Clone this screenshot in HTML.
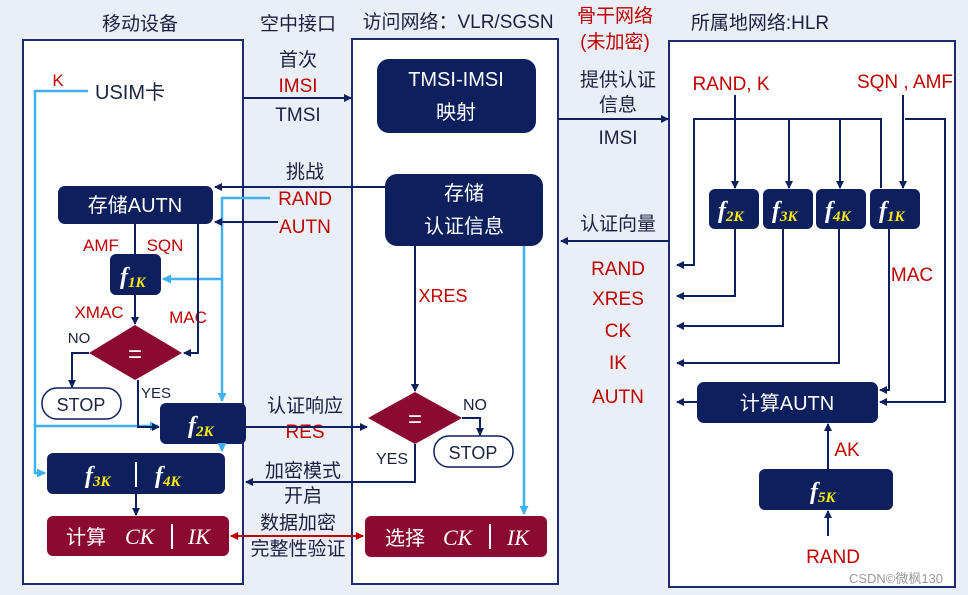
<!DOCTYPE html>
<html><head><meta charset="utf-8"><style>
html,body{margin:0;padding:0;background:#e9eef7}
svg{display:block}
text{font-family:"Liberation Sans","Noto Sans CJK SC",sans-serif}
.t{font-size:19px;fill:#1a2240;text-anchor:middle}
.r{font-size:19px;fill:#c00000;text-anchor:middle}
.w{font-size:20px;fill:#fff;text-anchor:middle}
.f{font-family:"Liberation Serif",serif;font-style:italic;font-weight:bold;fill:#fff;font-size:24px}
.k{fill:#ffee00;font-size:15px}
.n{stroke:#0d1f5c;stroke-width:2;fill:none}
.b{stroke:#3fb0f0;stroke-width:2.5;fill:none}
</style></head><body>
<svg width="968" height="595" viewBox="0 0 968 595" xmlns="http://www.w3.org/2000/svg">
<defs>
<marker id="a" markerWidth="8" markerHeight="8" refX="7" refY="4" orient="auto" markerUnits="userSpaceOnUse"><path d="M0,0 L8,4 L0,8 z" fill="#0d1f5c"/></marker>
<marker id="c" markerWidth="9" markerHeight="9" refX="8" refY="4.5" orient="auto" markerUnits="userSpaceOnUse"><path d="M0,0 L9,4.5 L0,9 z" fill="#3fb0f0"/></marker>
<marker id="d" markerWidth="8" markerHeight="8" refX="7" refY="4" orient="auto-start-reverse" markerUnits="userSpaceOnUse"><path d="M0,0 L8,4 L0,8 z" fill="#c00000"/></marker>
</defs>
<rect width="968" height="595" fill="#e9eef7"/>
<rect x="23" y="40" width="220" height="544" fill="#fff" stroke="#1d2c6e" stroke-width="2"/>
<rect x="352" y="39" width="206" height="545" fill="#fff" stroke="#1d2c6e" stroke-width="2"/>
<rect x="669" y="41" width="286" height="546" fill="#fff" stroke="#1d2c6e" stroke-width="2"/>

<text class="t" x="140" y="30">移动设备</text>
<text class="t" x="298" y="30">空中接口</text>
<text class="t" x="458" y="28">访问网络：VLR/SGSN</text>
<text class="r" x="615" y="22">骨干网络</text>
<text class="r" x="615" y="48">(未加密)</text>
<text class="t" x="760" y="29">所属地网络:HLR</text>

<!-- left panel -->
<text class="r" x="58" y="86" style="font-size:17px">K</text>
<text class="t" x="130" y="99" style="font-size:20px">USIM卡</text>
<rect x="58" y="186" width="155" height="38" rx="7" fill="#0d1f5c"/>
<text class="w" x="135" y="212">存储AUTN</text>
<rect x="110" y="254" width="51" height="41" rx="6" fill="#0d1f5c"/>
<text class="f" x="120" y="284">f<tspan class="k" dy="3">1K</tspan></text>
<polygon points="89,353 135,325 182,353 135,380" fill="#8b0a32"/>
<text x="135" y="362" style="font-size:24px;fill:#fff;text-anchor:middle">=</text>
<rect x="42" y="388" width="79" height="31" rx="15" fill="#fff" stroke="#0d1f5c" stroke-width="1.5"/>
<text class="t" x="81" y="411" style="font-size:18px">STOP</text>
<rect x="160" y="403" width="86" height="41" rx="6" fill="#0d1f5c"/>
<text class="f" x="188" y="433">f<tspan class="k" dy="3">2K</tspan></text>
<rect x="47" y="453" width="178" height="41" rx="6" fill="#0d1f5c"/>
<text class="f" x="85" y="483">f<tspan class="k" dy="3">3K</tspan></text>
<line x1="136" y1="462" x2="136" y2="487" stroke="#fff" stroke-width="2"/>
<text class="f" x="155" y="483">f<tspan class="k" dy="3">4K</tspan></text>
<rect x="47" y="516" width="182" height="40" rx="6" fill="#8b0a32"/>
<text class="w" x="86" y="544">计算</text>
<text class="f" x="125" y="544" style="font-weight:normal;font-size:22px">CK</text>
<line x1="172" y1="524" x2="172" y2="549" stroke="#fff" stroke-width="2"/>
<text class="f" x="188" y="544" style="font-weight:normal;font-size:22px">IK</text>
<text class="r" x="101" y="251" style="font-size:17px">AMF</text>
<text class="r" x="165" y="251" style="font-size:17px">SQN</text>
<text class="r" x="99" y="318" style="font-size:17px">XMAC</text>
<text class="r" x="188" y="323" style="font-size:17px">MAC</text>
<text class="t" x="79" y="343" style="font-size:15px">NO</text>
<text class="t" x="156" y="398" style="font-size:15px">YES</text>

<!-- left lines -->
<polyline class="b" points="88,91 35,91 35,426 158,426" marker-end="url(#c)"/>
<polyline class="b" points="35,426 35,473 45,473" marker-end="url(#c)"/>
<polyline class="b" points="270,198 222,198 222,401" marker-end="url(#c)"/>
<polyline class="b" points="222,279 163,279" marker-end="url(#c)"/>
<polyline class="b" points="222,444 222,451" marker-end="url(#c)"/>
<line class="n" x1="135" y1="224" x2="135" y2="254"/>
<polyline class="n" points="198,224 198,353 184,353" marker-end="url(#a)"/>
<line class="n" x1="135" y1="295" x2="135" y2="324" marker-end="url(#a)"/>
<polyline class="n" points="89,353 72,353 72,387" marker-end="url(#a)"/>
<polyline class="n" points="138,380 138,427 159,427" marker-end="url(#a)"/>
<line class="n" x1="136" y1="494" x2="136" y2="515" marker-end="url(#a)"/>

<!-- air interface -->
<text class="t" x="298" y="66">首次</text>
<text class="r" x="298" y="92">IMSI</text>
<text class="t" x="298" y="121">TMSI</text>
<line class="n" x1="244" y1="98" x2="351" y2="98" marker-end="url(#a)"/>
<text class="t" x="305" y="178">挑战</text>
<text class="r" x="305" y="205">RAND</text>
<text class="r" x="305" y="233">AUTN</text>
<line class="n" x1="385" y1="187" x2="215" y2="187" marker-end="url(#a)"/>
<line class="n" x1="278" y1="222" x2="215" y2="222" marker-end="url(#a)"/>
<text class="t" x="305" y="412">认证响应</text>
<text class="r" x="305" y="438">RES</text>
<line class="n" x1="246" y1="427" x2="367" y2="427" marker-end="url(#a)"/>
<text class="t" x="303" y="477">加密模式</text>
<text class="t" x="303" y="502">开启</text>
<polyline class="n" points="415,444 415,482 246,482" marker-end="url(#a)"/>
<text class="t" x="298" y="529">数据加密</text>
<text class="t" x="298" y="555">完整性验证</text>
<line x1="231" y1="536" x2="363" y2="536" stroke="#c00000" stroke-width="2" marker-start="url(#d)" marker-end="url(#d)"/>

<!-- middle -->
<rect x="377" y="59" width="159" height="74" rx="12" fill="#0d1f5c"/>
<text class="w" x="456" y="86">TMSI-IMSI</text>
<text class="w" x="456" y="119">映射</text>
<rect x="385" y="174" width="158" height="72" rx="12" fill="#0d1f5c"/>
<text class="w" x="464" y="200">存储</text>
<text class="w" x="464" y="233">认证信息</text>
<line class="n" x1="415" y1="246" x2="415" y2="391" marker-end="url(#a)"/>
<text class="r" x="443" y="302" style="font-size:18px">XRES</text>
<line class="b" x1="524" y1="246" x2="524" y2="514" marker-end="url(#c)"/>
<polygon points="368,418 415,392 462,418 415,444" fill="#8b0a32"/>
<text x="415" y="427" style="font-size:24px;fill:#fff;text-anchor:middle">=</text>
<text class="t" x="475" y="410" style="font-size:16px">NO</text>
<polyline class="n" points="462,418 480,418 480,435" marker-end="url(#a)"/>
<rect x="434" y="436" width="79" height="31" rx="15" fill="#fff" stroke="#0d1f5c" stroke-width="1.5"/>
<text class="t" x="473" y="459" style="font-size:18px">STOP</text>
<text class="t" x="392" y="464" style="font-size:16px">YES</text>
<rect x="365" y="516" width="182" height="41" rx="6" fill="#8b0a32"/>
<text class="w" x="405" y="545">选择</text>
<text class="f" x="443" y="545" style="font-weight:normal;font-size:22px">CK</text>
<line x1="490" y1="524" x2="490" y2="549" stroke="#fff" stroke-width="2"/>
<text class="f" x="507" y="545" style="font-weight:normal;font-size:22px">IK</text>

<!-- backbone -->
<text class="t" x="618" y="86">提供认证</text>
<text class="t" x="618" y="111">信息</text>
<text class="t" x="618" y="144">IMSI</text>
<line class="n" x1="558" y1="119" x2="668" y2="119" marker-end="url(#a)"/>
<text class="t" x="618" y="230">认证向量</text>
<line class="n" x1="670" y1="241" x2="561" y2="241" marker-end="url(#a)"/>
<text class="r" x="618" y="275">RAND</text>
<text class="r" x="618" y="305">XRES</text>
<text class="r" x="618" y="337">CK</text>
<text class="r" x="618" y="369">IK</text>
<text class="r" x="618" y="403">AUTN</text>

<!-- right -->
<text class="r" x="731" y="90">RAND, K</text>
<text class="r" x="905" y="88">SQN , AMF</text>
<line class="n" x1="735" y1="95" x2="735" y2="188" marker-end="url(#a)"/>
<line class="n" x1="903" y1="95" x2="903" y2="188" marker-end="url(#a)"/>
<polyline class="n" points="881,188 881,119 694,119 694,265 677,265" marker-end="url(#a)"/>
<line class="n" x1="789" y1="119" x2="789" y2="188" marker-end="url(#a)"/>
<line class="n" x1="840" y1="119" x2="840" y2="188" marker-end="url(#a)"/>
<polyline class="n" points="905,119 945,119 945,402 880,402" marker-end="url(#a)"/>
<rect x="709" y="189" width="50" height="40" rx="6" fill="#0d1f5c"/>
<rect x="763" y="189" width="50" height="40" rx="6" fill="#0d1f5c"/>
<rect x="816" y="189" width="50" height="40" rx="6" fill="#0d1f5c"/>
<rect x="870" y="189" width="50" height="40" rx="6" fill="#0d1f5c"/>
<text class="f" x="718" y="218">f<tspan class="k" dy="3">2K</tspan></text>
<text class="f" x="772" y="218">f<tspan class="k" dy="3">3K</tspan></text>
<text class="f" x="825" y="218">f<tspan class="k" dy="3">4K</tspan></text>
<text class="f" x="879" y="218">f<tspan class="k" dy="3">1K</tspan></text>
<polyline class="n" points="735,229 735,296 677,296" marker-end="url(#a)"/>
<polyline class="n" points="783,229 783,326 677,326" marker-end="url(#a)"/>
<polyline class="n" points="839,229 839,363 677,363" marker-end="url(#a)"/>
<polyline class="n" points="889,229 889,390 880,390" marker-end="url(#a)"/>
<text class="r" x="912" y="281">MAC</text>
<rect x="697" y="382" width="181" height="41" rx="7" fill="#0d1f5c"/>
<text class="w" x="787" y="410">计算AUTN</text>
<line class="n" x1="697" y1="402" x2="677" y2="402" marker-end="url(#a)"/>
<line class="n" x1="828" y1="469" x2="828" y2="424" marker-end="url(#a)"/>
<text class="r" x="847" y="456">AK</text>
<rect x="759" y="469" width="134" height="41" rx="6" fill="#0d1f5c"/>
<text class="f" x="810" y="499">f<tspan class="k" dy="3">5K</tspan></text>
<line class="n" x1="828" y1="536" x2="828" y2="511" marker-end="url(#a)"/>
<text class="r" x="833" y="563">RAND</text>
<text x="896" y="583" style="font-size:13px;fill:#999;text-anchor:middle">CSDN©微枫130</text>
</svg>
</body></html>
